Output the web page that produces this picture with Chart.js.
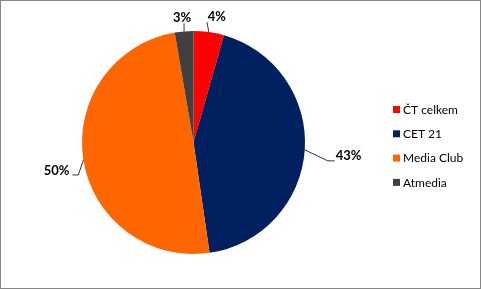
<!DOCTYPE html>
<html>
<head>
<meta charset="utf-8">
<script src="https://cdn.jsdelivr.net/npm/chart.js@4.4.0/dist/chart.umd.min.js"></script>
<style>
  html, body { margin: 0; padding: 0; background: #fff; }
  #wrap { position: relative; width: 479px; height: 287px; border: 1px solid #868686; }
  canvas { position: absolute; left: -1px; top: -1px; }
</style>
</head>
<body>
<div id="wrap"><canvas id="graf" width="481" height="289"></canvas></div>
<script>
// data
const kategorie = ['ČT celkem', 'CET 21', 'Media Club', 'Atmedia'];
const podily = [4.4, 43.3, 49.6, 2.7];
const popisky = ['4%', '43%', '50%', '3%'];
const barvy = ['#FF0000', '#002060', '#FF6600', '#404040'];

// posun popisku vuci stredu oblouku: [zlom vodici cary, konec cary, text]
const rozlozeni = [
  { cara: [[-2, -10]], text: [8, -15], zarovnani: 'center' },
  { cara: [[23, 11], [30, 11]], text: [31, 6], zarovnani: 'left' },
  { cara: [[-5, 15], [-11, 15]], text: [-14, 11], zarovnani: 'right' },
  { cara: [[0, -8]], text: [-2, -14], zarovnani: 'center' }
];

const popiskyPlugin = {
  id: 'popiskyVen',
  afterDatasetsDraw(chart) {
    const ctx = chart.ctx;
    const meta = chart.getDatasetMeta(0);
    ctx.save();
    meta.data.forEach((arc, i) => {
      const mid = (arc.startAngle + arc.endAngle) / 2;
      const x0 = arc.x + Math.cos(mid) * arc.outerRadius;
      const y0 = arc.y + Math.sin(mid) * arc.outerRadius;
      const r = rozlozeni[i];
      ctx.strokeStyle = '#000';
      ctx.lineWidth = 0.8;
      ctx.beginPath();
      ctx.moveTo(x0, y0);
      r.cara.forEach(p => ctx.lineTo(x0 + p[0], y0 + p[1]));
      ctx.stroke();
      ctx.fillStyle = '#000';
      ctx.font = 'bold 13px Lato, "Open Sans", sans-serif';
      ctx.textAlign = r.zarovnani;
      ctx.textBaseline = 'middle';
      ctx.fillText(popisky[i], x0 + r.text[0], y0 + r.text[1]);
    });
    ctx.restore();
  }
};

const legendaPlugin = {
  id: 'legendaVpravo',
  afterDraw(chart) {
    const ctx = chart.ctx;
    const x = 393, y = 109.5, krok = 24.3;
    ctx.save();
    ctx.font = '12px Lato, "Open Sans", sans-serif';
    ctx.textBaseline = 'middle';
    ctx.textAlign = 'left';
    kategorie.forEach((k, i) => {
      const yy = y + i * krok;
      ctx.fillStyle = barvy[i];
      ctx.fillRect(x, yy - 3.5, 7, 7);
      ctx.fillStyle = '#000';
      ctx.fillText(k, x + 10, yy + 0.5);
    });
    ctx.restore();
  }
};

new Chart(document.getElementById('graf').getContext('2d'), {
  type: 'pie',
  data: {
    labels: kategorie,
    datasets: [{
      data: podily,
      backgroundColor: barvy,
      borderWidth: 0
    }]
  },
  options: {
    responsive: false,
    animation: false,
    layout: { padding: { left: 82, right: 176, top: 31, bottom: 35 } },
    plugins: {
      legend: { display: false },
      tooltip: { enabled: false }
    }
  },
  plugins: [popiskyPlugin, legendaPlugin]
});
</script>
</body>
</html>
